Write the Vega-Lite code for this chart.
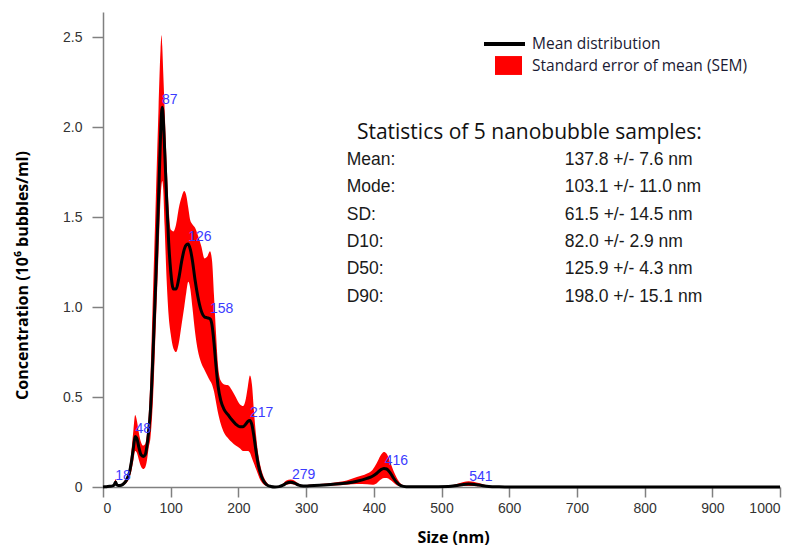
{
  "$schema": "https://vega.github.io/schema/vega-lite/v6.json",
  "width": 677,
  "height": 475,
  "autosize": {"type": "none"},
  "padding": {"left": 103, "top": 12, "right": 22, "bottom": 61},
  "background": "white",
  "config": {"view": {"stroke": null}},
  "datasets": {
    "dist": [
      {"s": 0, "m": 0, "lo": 0, "hi": 0},
      {"s": 5, "m": 0.002, "lo": 0.001, "hi": 0.003},
      {"s": 10, "m": 0.004, "lo": 0.002, "hi": 0.006},
      {"s": 14, "m": 0.006, "lo": 0.003, "hi": 0.009},
      {"s": 16.5, "m": 0.012, "lo": 0.006, "hi": 0.02},
      {"s": 18.5, "m": 0.028, "lo": 0.018, "hi": 0.045},
      {"s": 20.5, "m": 0.012, "lo": 0.007, "hi": 0.018},
      {"s": 23, "m": 0.008, "lo": 0.005, "hi": 0.012},
      {"s": 27, "m": 0.01, "lo": 0.006, "hi": 0.016},
      {"s": 31, "m": 0.02, "lo": 0.012, "hi": 0.03},
      {"s": 35, "m": 0.04, "lo": 0.025, "hi": 0.06},
      {"s": 39, "m": 0.08, "lo": 0.05, "hi": 0.11},
      {"s": 42, "m": 0.14, "lo": 0.09, "hi": 0.2},
      {"s": 45, "m": 0.22, "lo": 0.15, "hi": 0.32},
      {"s": 47.5, "m": 0.28, "lo": 0.2, "hi": 0.4},
      {"s": 50, "m": 0.27, "lo": 0.19, "hi": 0.37},
      {"s": 53, "m": 0.22, "lo": 0.15, "hi": 0.3},
      {"s": 56, "m": 0.18, "lo": 0.115, "hi": 0.25},
      {"s": 59.5, "m": 0.17, "lo": 0.1, "hi": 0.23},
      {"s": 62.5, "m": 0.18, "lo": 0.11, "hi": 0.24},
      {"s": 65, "m": 0.23, "lo": 0.15, "hi": 0.3},
      {"s": 67.5, "m": 0.31, "lo": 0.22, "hi": 0.4},
      {"s": 70, "m": 0.42, "lo": 0.27, "hi": 0.6},
      {"s": 74, "m": 0.75, "lo": 0.5, "hi": 1.1},
      {"s": 78, "m": 1.15, "lo": 0.9, "hi": 1.6},
      {"s": 82, "m": 1.6, "lo": 1.3, "hi": 2.1},
      {"s": 85, "m": 1.95, "lo": 1.6, "hi": 2.43},
      {"s": 86.5, "m": 2.08, "lo": 1.68, "hi": 2.51},
      {"s": 87.5, "m": 2.11, "lo": 1.7, "hi": 2.45},
      {"s": 89, "m": 2.05, "lo": 1.65, "hi": 2.3},
      {"s": 91, "m": 1.88, "lo": 1.45, "hi": 2.1},
      {"s": 94, "m": 1.6, "lo": 1.15, "hi": 1.8},
      {"s": 97, "m": 1.36, "lo": 0.95, "hi": 1.55},
      {"s": 100, "m": 1.2, "lo": 0.85, "hi": 1.43},
      {"s": 104, "m": 1.1, "lo": 0.77, "hi": 1.42},
      {"s": 108, "m": 1.1, "lo": 0.75, "hi": 1.46},
      {"s": 112, "m": 1.16, "lo": 0.8, "hi": 1.55},
      {"s": 116, "m": 1.25, "lo": 0.9, "hi": 1.61},
      {"s": 120, "m": 1.32, "lo": 1.0, "hi": 1.645},
      {"s": 123, "m": 1.345, "lo": 1.08, "hi": 1.62},
      {"s": 126, "m": 1.35, "lo": 1.14, "hi": 1.55},
      {"s": 129, "m": 1.32, "lo": 1.1, "hi": 1.48},
      {"s": 132, "m": 1.26, "lo": 1.0, "hi": 1.46},
      {"s": 136, "m": 1.15, "lo": 0.86, "hi": 1.44},
      {"s": 140, "m": 1.06, "lo": 0.76, "hi": 1.4},
      {"s": 145, "m": 0.98, "lo": 0.69, "hi": 1.34},
      {"s": 150, "m": 0.945, "lo": 0.65, "hi": 1.27},
      {"s": 154, "m": 0.94, "lo": 0.62, "hi": 1.28},
      {"s": 158, "m": 0.935, "lo": 0.59, "hi": 1.31},
      {"s": 161, "m": 0.9, "lo": 0.57, "hi": 1.26},
      {"s": 164, "m": 0.8, "lo": 0.53, "hi": 1.06},
      {"s": 167, "m": 0.67, "lo": 0.47, "hi": 0.85},
      {"s": 170, "m": 0.56, "lo": 0.41, "hi": 0.67},
      {"s": 174, "m": 0.48, "lo": 0.35, "hi": 0.59},
      {"s": 179, "m": 0.43, "lo": 0.3, "hi": 0.57},
      {"s": 185, "m": 0.4, "lo": 0.27, "hi": 0.565},
      {"s": 190, "m": 0.375, "lo": 0.25, "hi": 0.54},
      {"s": 196, "m": 0.35, "lo": 0.23, "hi": 0.5},
      {"s": 202, "m": 0.335, "lo": 0.215, "hi": 0.46},
      {"s": 207, "m": 0.335, "lo": 0.2, "hi": 0.45},
      {"s": 211, "m": 0.35, "lo": 0.2, "hi": 0.49},
      {"s": 214, "m": 0.365, "lo": 0.2, "hi": 0.56},
      {"s": 217, "m": 0.37, "lo": 0.19, "hi": 0.62},
      {"s": 220, "m": 0.345, "lo": 0.16, "hi": 0.57},
      {"s": 223, "m": 0.28, "lo": 0.13, "hi": 0.42},
      {"s": 226, "m": 0.2, "lo": 0.1, "hi": 0.29},
      {"s": 229, "m": 0.13, "lo": 0.07, "hi": 0.19},
      {"s": 233, "m": 0.07, "lo": 0.035, "hi": 0.11},
      {"s": 237, "m": 0.035, "lo": 0.015, "hi": 0.06},
      {"s": 242, "m": 0.012, "lo": 0.005, "hi": 0.025},
      {"s": 248, "m": 0.003, "lo": 0.001, "hi": 0.006},
      {"s": 254, "m": 0, "lo": 0, "hi": 0.001},
      {"s": 260, "m": 0.002, "lo": 0.001, "hi": 0.004},
      {"s": 266, "m": 0.01, "lo": 0.005, "hi": 0.02},
      {"s": 271, "m": 0.022, "lo": 0.012, "hi": 0.036},
      {"s": 277, "m": 0.027, "lo": 0.016, "hi": 0.042},
      {"s": 283, "m": 0.022, "lo": 0.012, "hi": 0.035},
      {"s": 289, "m": 0.01, "lo": 0.005, "hi": 0.018},
      {"s": 296, "m": 0.005, "lo": 0.002, "hi": 0.01},
      {"s": 305, "m": 0.007, "lo": 0.003, "hi": 0.012},
      {"s": 320, "m": 0.01, "lo": 0.005, "hi": 0.016},
      {"s": 340, "m": 0.015, "lo": 0.008, "hi": 0.024},
      {"s": 360, "m": 0.022, "lo": 0.012, "hi": 0.036},
      {"s": 375, "m": 0.032, "lo": 0.016, "hi": 0.055},
      {"s": 390, "m": 0.048, "lo": 0.015, "hi": 0.075},
      {"s": 398, "m": 0.06, "lo": 0.012, "hi": 0.095},
      {"s": 404, "m": 0.075, "lo": 0.02, "hi": 0.13},
      {"s": 410, "m": 0.095, "lo": 0.04, "hi": 0.175},
      {"s": 415, "m": 0.103, "lo": 0.05, "hi": 0.195},
      {"s": 419, "m": 0.1, "lo": 0.05, "hi": 0.185},
      {"s": 424, "m": 0.08, "lo": 0.04, "hi": 0.14},
      {"s": 429, "m": 0.05, "lo": 0.025, "hi": 0.09},
      {"s": 434, "m": 0.025, "lo": 0.01, "hi": 0.05},
      {"s": 440, "m": 0.008, "lo": 0.003, "hi": 0.018},
      {"s": 448, "m": 0.002, "lo": 0, "hi": 0.004},
      {"s": 460, "m": 0.001, "lo": 0, "hi": 0.002},
      {"s": 480, "m": 0.001, "lo": 0, "hi": 0.002},
      {"s": 510, "m": 0.003, "lo": 0.001, "hi": 0.006},
      {"s": 525, "m": 0.01, "lo": 0.004, "hi": 0.02},
      {"s": 540, "m": 0.016, "lo": 0.006, "hi": 0.032},
      {"s": 555, "m": 0.011, "lo": 0.004, "hi": 0.022},
      {"s": 570, "m": 0.003, "lo": 0.001, "hi": 0.007},
      {"s": 585, "m": 0.001, "lo": 0, "hi": 0.002},
      {"s": 600, "m": 0, "lo": 0, "hi": 0.002},
      {"s": 700, "m": 0, "lo": 0, "hi": 0.002},
      {"s": 800, "m": 0, "lo": 0, "hi": 0.002},
      {"s": 900, "m": 0, "lo": 0, "hi": 0.002},
      {"s": 1000, "m": 0, "lo": 0, "hi": 0.002}
    ],
    "peaks": [
      {"s": 18, "m": 0.025, "label": "18"},
      {"s": 48, "m": 0.285, "label": "48"},
      {"s": 87, "m": 2.11, "label": "87"},
      {"s": 126, "m": 1.35, "label": "126"},
      {"s": 158, "m": 0.95, "label": "158"},
      {"s": 217, "m": 0.37, "label": "217"},
      {"s": 279, "m": 0.03, "label": "279"},
      {"s": 416, "m": 0.105, "label": "416"},
      {"s": 541, "m": 0.018, "label": "541"}
    ],
    "stats": [
      {"stat": "Mean:", "value": "137.8 +/- 7.6 nm"},
      {"stat": "Mode:", "value": "103.1 +/- 11.0 nm"},
      {"stat": "SD:", "value": "61.5 +/- 14.5 nm"},
      {"stat": "D10:", "value": "82.0 +/- 2.9 nm"},
      {"stat": "D50:", "value": "125.9 +/- 4.3 nm"},
      {"stat": "D90:", "value": "198.0 +/- 15.1 nm"}
    ]
  },
  "layer": [
    {
      "layer": [
        {
          "data": {"name": "dist"},
          "mark": {"type": "area", "interpolate": "monotone"},
          "encoding": {
            "x": {
              "field": "s", "type": "quantitative", "title": "Size (nm)",
              "scale": {"domain": [0, 1000], "nice": false},
              "axis": {
                "values": [0, 100, 200, 300, 400, 500, 600, 700, 800, 900, 1000],
                "format": "d",
                "grid": false, "tickSize": 10, "labelPadding": 4,
                "domainColor": "#808080", "domainWidth": 1.5, "tickColor": "#808080", "tickWidth": 1.5,
                "labelFont": "Liberation Sans", "labelFontSize": 14, "labelColor": "#333333",
                "titleFont": "Open Sans", "titleFontWeight": "bold", "titleFontSize": 16, "titleColor": "#000000",
                "titleX": 350, "titlePadding": 14
              }
            },
            "y": {
              "field": "hi", "type": "quantitative",
              "title": "Concentration (10⁶ bubbles/ml)",
              "scale": {"domain": [0, 2.639], "nice": false},
              "axis": {
                "values": [0, 0.5, 1, 1.5, 2, 2.5],
                "labelExpr": "datum.value == 0 ? '0' : format(datum.value, '.1f')",
                "grid": false, "tickSize": 11, "labelPadding": 10,
                "domainColor": "#808080", "domainWidth": 1.5, "tickColor": "#808080", "tickWidth": 1.5,
                "labelFont": "Liberation Sans", "labelFontSize": 14, "labelColor": "#333333",
                "titleFont": "Open Sans", "titleFontWeight": "bold", "titleFontSize": 16, "titleColor": "#000000",
                "titlePadding": 32, "titleY": 263
              }
            },
            "y2": {"field": "lo"},
            "fill": {
              "datum": "Standard error of mean (SEM)",
              "scale": {"range": ["#ff0000"]},
              "legend": {
                "orient": "none", "legendX": 392, "legendY": 40, "title": null, "padding": 0,
                "symbolType": "M-1,-0.7H1V0.7H-1Z", "symbolSize": 729, "symbolStrokeWidth": 0,
                "symbolFillColor": "#ee1c25", "symbolOpacity": 1, "labelLimit": 0,
                "labelFont": "Open Sans", "labelFontSize": 15.5, "labelColor": "#1a1a33", "labelOffset": 10
              }
            }
          }
        },
        {
          "data": {"name": "dist"},
          "mark": {"type": "line", "interpolate": "monotone", "strokeWidth": 3},
          "encoding": {
            "x": {"field": "s", "type": "quantitative"},
            "y": {"field": "m", "type": "quantitative"},
            "stroke": {
              "datum": "Mean distribution",
              "scale": {"range": ["#000000"]},
              "legend": {
                "orient": "none", "legendX": 379, "legendY": 9.5, "title": null, "padding": 0,
                "symbolType": "stroke", "symbolSize": 1681, "symbolStrokeWidth": 4, "symbolStrokeColor": "#000000",
                "labelLimit": 0,
                "labelFont": "Open Sans", "labelFontSize": 15.5, "labelColor": "#1a1a33", "labelOffset": 5
              }
            }
          }
        },
        {
          "data": {"name": "peaks"},
          "mark": {"type": "text", "align": "left", "baseline": "alphabetic", "dy": -3, "font": "Liberation Sans", "fontSize": 14, "color": "#3b3bff"},
          "encoding": {
            "x": {"field": "s", "type": "quantitative"},
            "y": {"field": "m", "type": "quantitative"},
            "text": {"field": "label"}
          }
        },
        {
          "data": {"values": [{"t": "Statistics of 5 nanobubble samples:"}]},
          "mark": {"type": "text", "align": "left", "baseline": "alphabetic", "font": "Open Sans", "fontSize": 21, "color": "#111111"},
          "encoding": {
            "x": {"datum": 375},
            "y": {"datum": 1.931},
            "text": {"field": "t"}
          }
        }
      ]
    },
    {
      "data": {"name": "stats"},
      "layer": [
        {
          "mark": {"type": "text", "align": "left", "baseline": "alphabetic", "font": "Liberation Sans", "fontSize": 17.5, "color": "#1a1a1a"},
          "encoding": {
            "x": {"datum": 360},
            "y": {"field": "stat", "type": "nominal", "sort": null, "scale": {"type": "point", "range": [153, 289.7], "padding": 0}, "axis": null},
            "text": {"field": "stat"}
          }
        },
        {
          "mark": {"type": "text", "align": "left", "baseline": "alphabetic", "font": "Liberation Sans", "fontSize": 17.5, "color": "#1a1a1a"},
          "encoding": {
            "x": {"datum": 682},
            "y": {"field": "stat", "type": "nominal", "sort": null},
            "text": {"field": "value"}
          }
        }
      ]
    }
  ],
  "resolve": {"scale": {"y": "independent"}}
}
